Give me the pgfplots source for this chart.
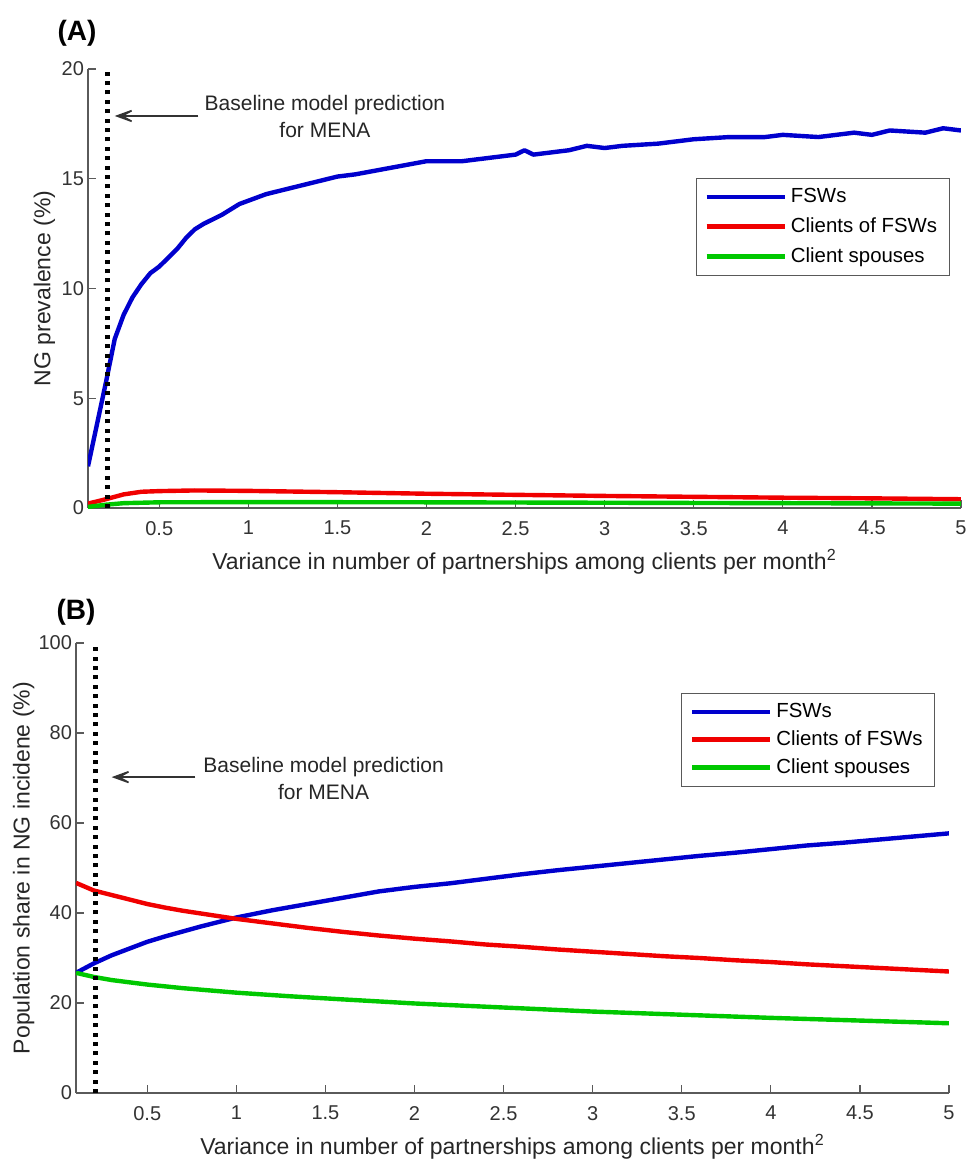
\documentclass[border=0pt]{standalone}
\usepackage{fontspec}
\setmainfont{Liberation Sans}
\usepackage{pgfplots}
\pgfplotsset{compat=1.18}
\usetikzlibrary{arrows.meta}

\definecolor{mblue}{RGB}{0,0,205}
\definecolor{mred}{RGB}{240,0,0}
\definecolor{mgreen}{RGB}{0,200,0}
\definecolor{axgray}{RGB}{90,90,90}

\tikzset{
  note/.style={align=center, font=\fontsize{10.5}{13.5}\selectfont, text=black!85},
  pointer/.style={-{Stealth[length=13pt,width=9.5pt,inset=8.5pt]}, line width=0.8pt, black!80},
}

\pgfplotsset{
  panel/.style={
    scale only axis,
    width=436.5pt,
    axis lines*=left,
    axis line style={axgray, line width=0.6pt},
    tick style={axgray, line width=0.6pt},
    tick align=inside,
    major tick length=4pt,
    xmin=0.1, xmax=5,
    xtick={0.5,1,...,5},
    /pgf/number format/assume math mode=true,
    ticklabel style={font=\fontsize{10}{11}\selectfont, text=black!80},
    xticklabel style={yshift=-3pt},
    yticklabel style={xshift=1.5pt},
    label style={font=\fontsize{11.5}{13}\selectfont, text=black!85},
    xlabel={Variance in number of partnerships among clients per month$^{\mathrm{2}}$},
    xlabel style={at={(axis description cs:0.5,0)}, anchor=base, yshift=-30.5pt},
    legend cell align=left,
    legend image code/.code={\draw[#1, line width=2.2pt] (0pt,0pt) -- (39pt,0pt);},
    legend style={draw=black!65, line width=0.5pt, fill=white,
      font=\fontsize{10.2}{11.5}\selectfont, inner xsep=4pt, inner ysep=3pt,
      row sep=2pt},
    every axis plot/.append style={line width=2.2pt, line join=round},
  },
  baseline/.style={black, line width=2.3pt, dash pattern=on 2pt off 2.7pt, forget plot},
}

\begin{document}
\begin{tikzpicture}
\useasboundingbox (0pt,0pt) rectangle (484.5pt,-581.5pt);

\node[font=\bfseries\fontsize{14}{16}\selectfont] at (38.5pt,-16.5pt) {(A)};
\node[font=\bfseries\fontsize{14}{16}\selectfont] at (38pt,-306pt) {(B)};

% ---------------- panel A ----------------
\begin{axis}[panel,
  at={(44pt,-254pt)}, anchor=south west,
  height=219.5pt,
  ymin=0, ymax=20, ytick={0,5,...,20},
  ylabel={NG prevalence (\%)},
  ylabel style={at={(axis description cs:-0.050,0.5)}, anchor=center},
  legend style={at={(rel axis cs:0.987,0.752)}, anchor=north east},
]
\addplot[mblue] coordinates {
(0.10,1.9) (0.15,3.8) (0.20,5.7) (0.25,7.7) (0.30,8.8) (0.35,9.6) (0.40,10.2)
(0.45,10.7) (0.50,11.0) (0.55,11.4) (0.60,11.8) (0.65,12.3) (0.70,12.7)
(0.75,12.95) (0.80,13.15) (0.85,13.35) (0.90,13.6) (0.95,13.85) (1.00,14.0)
(1.10,14.3) (1.20,14.5) (1.30,14.7) (1.40,14.9) (1.50,15.1) (1.60,15.2)
(1.70,15.35) (1.80,15.5) (1.90,15.65) (2.00,15.8) (2.20,15.8) (2.40,16.0)
(2.50,16.1) (2.55,16.3) (2.60,16.1) (2.80,16.3) (2.90,16.5) (3.00,16.4)
(3.10,16.5) (3.30,16.6) (3.50,16.8) (3.70,16.9) (3.90,16.9) (4.00,17.0)
(4.20,16.9) (4.40,17.1) (4.50,17.0) (4.60,17.2) (4.80,17.1) (4.90,17.3)
(5.00,17.2)};
\addlegendentry{FSWs}
\addplot[mred] coordinates {
(0.10,0.20) (0.20,0.40) (0.30,0.62) (0.40,0.74) (0.50,0.77) (0.70,0.80)
(1.00,0.78) (1.50,0.72) (2.00,0.65) (2.50,0.60) (3.00,0.55) (3.50,0.51)
(4.00,0.47) (4.50,0.44) (5.00,0.40)};
\addlegendentry{Clients of FSWs}
\addplot[mgreen] coordinates {
(0.10,0.05) (0.20,0.15) (0.30,0.22) (0.50,0.26) (1.00,0.27) (2.00,0.26)
(3.00,0.24) (4.00,0.22) (5.00,0.20)};
\addlegendentry{Client spouses}
\addplot[baseline] coordinates {(0.21,0) (0.21,20)};
\draw[pointer] (axis cs:0.72,17.86) -- (axis cs:0.25,17.86);
\node[note] at (axis cs:1.43,17.84) {Baseline model prediction\\for MENA};
\end{axis}

% ---------------- panel B ----------------
\begin{axis}[panel,
  at={(38pt,-546.5pt)}, anchor=south west,
  height=225pt,
  ymin=0, ymax=100, ytick={0,20,...,100},
  ylabel={Population share in NG incidene (\%)},
  ylabel style={at={(axis description cs:-0.060,0.5)}, anchor=center},
  legend style={at={(rel axis cs:0.984,0.889)}, anchor=north east, row sep=1pt},
]
\addplot[mblue] coordinates {
(0.10,26.7) (0.20,28.8) (0.30,30.6) (0.40,32.1) (0.50,33.6) (0.60,34.8)
(0.70,35.9) (0.80,37.0) (0.90,38.0) (1.00,39.0) (1.20,40.6) (1.40,42.0)
(1.60,43.4) (1.80,44.8) (2.00,45.8) (2.20,46.6) (2.40,47.6) (2.60,48.6)
(2.80,49.5) (3.00,50.3) (3.20,51.1) (3.40,51.9) (3.60,52.7) (3.80,53.4)
(4.00,54.2) (4.20,55.0) (4.40,55.6) (4.60,56.3) (4.80,57.0) (5.00,57.7)};
\addlegendentry{FSWs}
\addplot[mred] coordinates {
(0.10,46.7) (0.20,45.0) (0.30,44.0) (0.40,43.0) (0.50,42.0) (0.60,41.2)
(0.70,40.5) (0.80,39.9) (0.90,39.3) (1.00,38.7) (1.20,37.7) (1.40,36.7)
(1.60,35.8) (1.80,35.0) (2.00,34.3) (2.20,33.7) (2.40,33.0) (2.60,32.5)
(2.80,31.9) (3.00,31.4) (3.20,30.9) (3.40,30.4) (3.60,30.0) (3.80,29.5)
(4.00,29.1) (4.20,28.6) (4.40,28.2) (4.60,27.8) (4.80,27.4) (5.00,27.0)};
\addlegendentry{Clients of FSWs}
\addplot[mgreen] coordinates {
(0.10,26.7) (0.20,25.8) (0.30,25.1) (0.50,24.1) (0.70,23.3) (1.00,22.3)
(1.30,21.5) (1.60,20.8) (2.00,19.9) (2.50,19.0) (3.00,18.1) (3.50,17.4)
(4.00,16.7) (4.50,16.1) (5.00,15.5)};
\addlegendentry{Client spouses}
\addplot[baseline] coordinates {(0.21,0) (0.21,100)};
\draw[pointer] (axis cs:0.77,70.2) -- (axis cs:0.30,70.2);
\node[note] at (axis cs:1.49,69.8) {Baseline model prediction\\for MENA};
\end{axis}
\end{tikzpicture}
\end{document}
